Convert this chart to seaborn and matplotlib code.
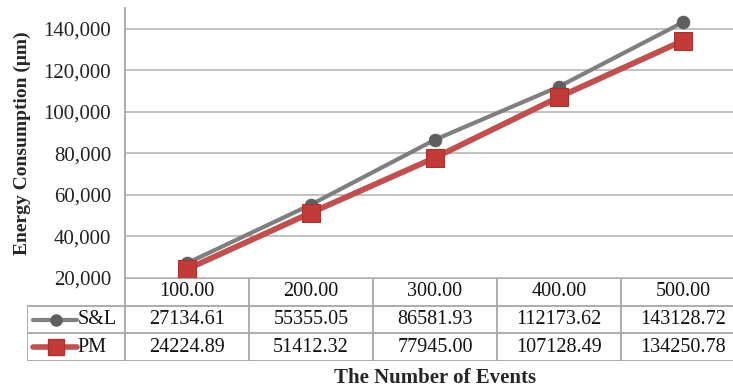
import matplotlib
matplotlib.use("Agg")
import matplotlib.pyplot as plt
import numpy as np
import pandas as pd
import seaborn as sns

events = [100, 200, 300, 400, 500]
event_labels = ["100.00", "200.00", "300.00", "400.00", "500.00"]
sl_values = [27134.61, 55355.05, 86581.93, 112173.62, 143128.72]
pm_values = [24224.89, 51412.32, 77945.00, 107128.49, 134250.78]
series_names = ["S&L", "PM"]

sns.set_style("white")
plt.rcParams["font.family"] = ["Liberation Serif", "DejaVu Serif"]

W, H = 733, 389
fig = plt.figure(figsize=(W / 100, H / 100), dpi=100)

# plot area in pixels: x 125..745 (last column runs off the image), y 8..278
ax = fig.add_axes([125 / W, (H - 278) / H, 620 / W, 270 / H])

df = pd.DataFrame({
    "events": events * 2,
    "energy": sl_values + pm_values,
    "series": [series_names[0]] * 5 + [series_names[1]] * 5,
})

grey = "#7f7f7f"
red = "#c0504d"
sns.lineplot(data=df[df.series == "S&L"], x="events", y="energy", ax=ax,
             color=grey, lw=3, marker="o", markersize=9,
             markerfacecolor="#5f5f5f", markeredgecolor="#5f5f5f", zorder=3)
sns.lineplot(data=df[df.series == "PM"], x="events", y="energy", ax=ax,
             color=red, lw=4.2, marker="s", markersize=13,
             markerfacecolor="#c23b38", markeredgecolor="#a83230", zorder=4)

ax.set_xlim(50, 550)
ax.set_ylim(20000, 150000)
ax.set_yticks(np.arange(20000, 140001, 20000))
ax.set_yticklabels([f"{v:,}" for v in range(20000, 140001, 20000)], fontsize=15)
ax.set_xticks([])
ax.set_xlabel("")
ax.set_ylabel("")
ax.grid(axis="y", color="#bcbcbc", lw=1.3)
ax.set_axisbelow(True)
for side in ["top", "right", "bottom"]:
    ax.spines[side].set_visible(False)
ax.spines["left"].set_color("#a6a6a6")
ax.spines["left"].set_linewidth(1.3)
ax.tick_params(axis="y", length=5, color="#a6a6a6", width=1.2, pad=5, labelcolor="#222222")
if ax.get_legend():
    ax.get_legend().remove()

# data table below the plot
tab = fig.add_axes([27 / W, (H - 361) / H, 718 / W, 83 / H])
tab.set_xlim(-29, 550)
tab.set_ylim(3, 0)
tab.axis("off")
lc = "#a6a6a6"
fs = 14.5
# horizontal lines
tab.plot([50, 550], [0, 0], color=lc, lw=1.3)
for yy in [1, 2, 3]:
    tab.plot([-29, 550], [yy, yy], color=lc, lw=1.3)
# vertical lines
tab.plot([-29, -29], [1, 3], color=lc, lw=1.3)
for xx in [50, 150, 250, 350, 450]:
    tab.plot([xx, xx], [0, 3], color=lc, lw=1.3)

for x, lab in zip(events, event_labels):
    tab.text(x, 0.5, lab, ha="center", va="center", fontsize=fs, color="#111111")
for x, v in zip(events, sl_values):
    tab.text(x, 1.5, f"{v:.2f}", ha="center", va="center", fontsize=fs, color="#111111")
for x, v in zip(events, pm_values):
    tab.text(x, 2.5, f"{v:.2f}", ha="center", va="center", fontsize=fs, color="#111111")

# legend keys inside the table
tab.plot([-24, 11], [1.5, 1.5], color=grey, lw=3)
tab.plot([-6], [1.5], marker="o", markersize=8, color="#5f5f5f")
tab.text(12, 1.5, "S&L", ha="left", va="center", fontsize=fs, color="#111111")
tab.plot([-24, 11], [2.5, 2.5], color=red, lw=4)
tab.plot([-6], [2.5], marker="s", markersize=11, color="#c23b38", markeredgecolor="#a83230")
tab.text(12, 2.5, "PM", ha="left", va="center", fontsize=fs, color="#111111")

fig.text(435 / W, 1 - 378 / H, "The Number of Events", ha="center", va="center",
         fontsize=15, fontweight="bold")
fig.text(22 / W, 1 - 143 / H, "Energy Consumption (μm)", ha="center", va="center",
         rotation=90, fontsize=14, fontweight="bold")

fig.savefig("out.png", dpi=100)
